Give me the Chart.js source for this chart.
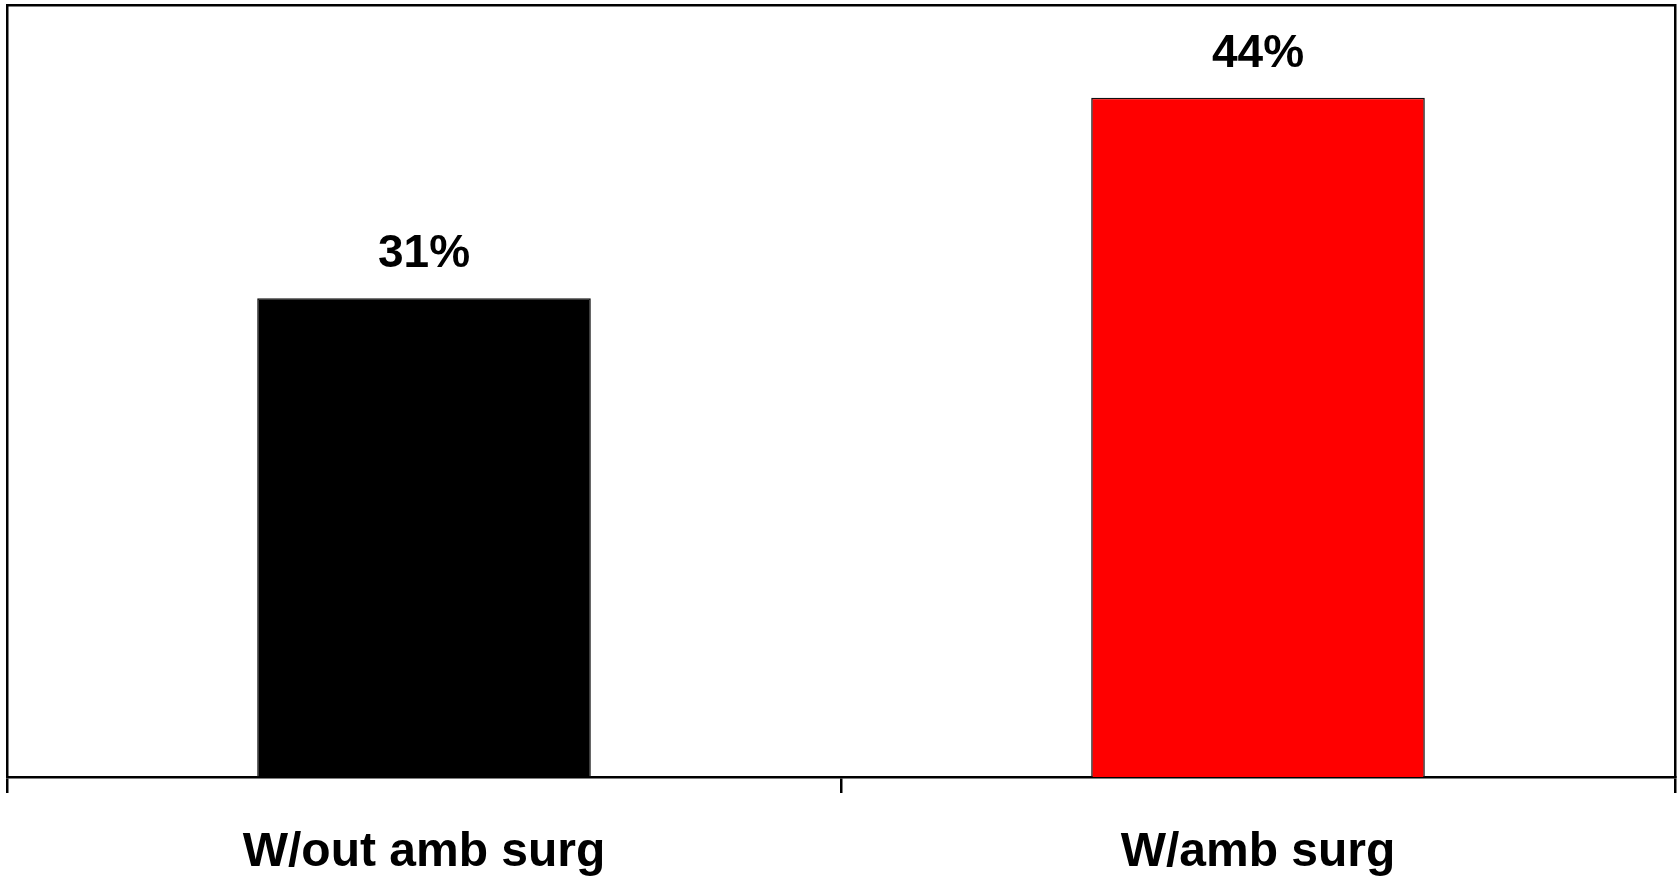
<!DOCTYPE html>
<html>
<head>
<meta charset="utf-8">
<style>
  html, body { margin: 0; padding: 0; background: #ffffff; }
  #wrap { width: 1679px; height: 877px; position: relative; }
</style>
<script src="https://cdn.jsdelivr.net/npm/chart.js@4/dist/chart.umd.min.js"></script>
</head>
<body>
<div id="wrap"><canvas id="chart" width="1679" height="877"></canvas></div>
<script>
// Share of cases, by ambulatory surgery availability
const categories = ['W/out amb surg', 'W/amb surg'];
const values = [31, 44];
const barColors = ['#000000', '#FF0000'];
const yMin = 0;
const yMax = 50;

const FONT = "'Liberation Sans', Arial, Helvetica, sans-serif";

// Percent label above each bar, placed from the bar element itself
const valueLabels = {
  id: 'valueLabels',
  afterDatasetsDraw(chart) {
    const ctx = chart.ctx;
    const meta = chart.getDatasetMeta(0);
    ctx.save();
    ctx.fillStyle = '#000000';
    ctx.font = 'bold 46px ' + FONT;
    ctx.textAlign = 'center';
    ctx.textBaseline = 'alphabetic';
    meta.data.forEach((bar, i) => {
      ctx.fillText(values[i] + '%', bar.x, bar.y - 31);
    });
    ctx.restore();
  }
};

const edge = { display: true, color: '#000000', width: 2.5 };

new Chart(document.getElementById('chart'), {
  type: 'bar',
  data: {
    labels: categories,
    datasets: [{
      data: values,
      backgroundColor: barColors,
      borderColor: '#111111',
      borderWidth: 1.5,
      barPercentage: 0.4,
      categoryPercentage: 1.0
    }]
  },
  options: {
    responsive: false,
    animation: false,
    layout: { padding: 0 },
    plugins: {
      legend: { display: false },
      tooltip: { enabled: false }
    },
    scales: {
      x: {
        position: 'bottom',
        border: edge,
        grid: {
          display: true,
          offset: true,
          drawOnChartArea: false,
          drawTicks: true,
          tickLength: 16,
          tickColor: '#000000',
          tickWidth: 2.5,
          color: '#000000',
          lineWidth: 2.5
        },
        ticks: {
          color: '#000000',
          padding: 31,
          font: { family: FONT, size: 48, weight: 'bold' }
        },
        afterFit(scale) { scale.height = 100; }
      },
      xTop: {
        type: 'category',
        position: 'top',
        border: edge,
        grid: { display: false },
        ticks: { display: false },
        afterFit(scale) { scale.height = 5; }
      },
      y: {
        position: 'left',
        min: yMin,
        max: yMax,
        border: edge,
        grid: { display: false },
        ticks: { display: false },
        afterFit(scale) { scale.width = 7; }
      },
      yRight: {
        type: 'linear',
        position: 'right',
        min: yMin,
        max: yMax,
        border: edge,
        grid: { display: false },
        ticks: { display: false },
        afterFit(scale) { scale.width = 4; }
      }
    }
  },
  plugins: [valueLabels]
});
</script>
</body>
</html>
